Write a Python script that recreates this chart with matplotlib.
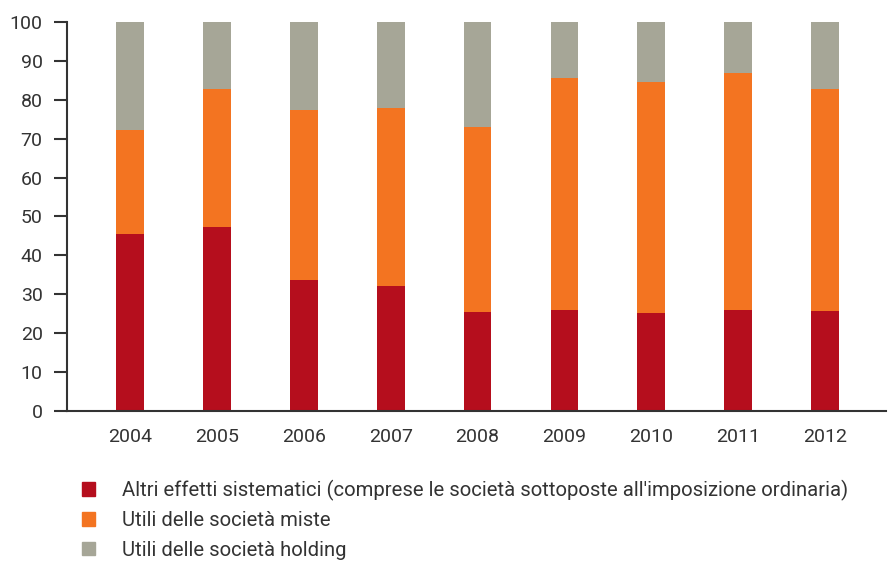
import numpy as np
import matplotlib.pyplot as plt
from matplotlib.patches import Patch

plt.rcParams['font.family'] = ['Roboto', 'DejaVu Sans']

years = ['2004', '2005', '2006', '2007', '2008', '2009', '2010', '2011', '2012']
# share of each component, per cent
altri = [45.5, 47.3, 33.7, 32.1, 25.4, 26.0, 25.2, 26.0, 25.7]
miste = [26.7, 35.5, 43.7, 45.8, 47.6, 59.6, 59.5, 60.9, 57.1]
holding = [27.8, 17.2, 22.6, 22.1, 27.0, 14.4, 15.3, 13.1, 17.2]

labels = ["Altri effetti sistematici (comprese le società sottoposte all'imposizione ordinaria)",
          "Utili delle società miste",
          "Utili delle società holding"]
colors = ['#B50E1D', '#F37421', '#A6A697']

fig = plt.figure(figsize=(8.94, 5.61), dpi=100)
ax = fig.add_axes([0.075, 0.2674, 0.916, 0.6934])

x = np.arange(len(years))
w = 0.32
bottom = np.zeros(len(years))
for vals, c in zip([altri, miste, holding], colors):
    ax.bar(x, vals, w, bottom=bottom, color=c, linewidth=0)
    bottom += np.array(vals)

ax.set_xlim(-0.725, 8.70)
ax.set_ylim(0, 100)
ax.set_yticks(range(0, 101, 10))
ax.set_xticks(x)
ax.set_xticklabels(years)

for s in ['top', 'right']:
    ax.spines[s].set_visible(False)
for s in ['left', 'bottom']:
    ax.spines[s].set_color('#333333')
    ax.spines[s].set_linewidth(1.5)
ax.tick_params(axis='y', length=9.5, width=1.5, color='#333333', pad=8,
               labelsize=14, labelcolor='#333333')
ax.tick_params(axis='x', length=0, pad=12, labelsize=14, labelcolor='#333333')

handles = [Patch(color=c, label=l) for c, l in zip(colors, labels)]
fig.legend(handles=handles, loc='upper left', bbox_to_anchor=(0.092, 0.145),
           frameon=False, fontsize=14.6, labelcolor='#333333',
           handlelength=0.64, handleheight=0.64, handletextpad=1.3,
           labelspacing=0.52, borderaxespad=0, borderpad=0)

fig.savefig('out.png', dpi=100)
